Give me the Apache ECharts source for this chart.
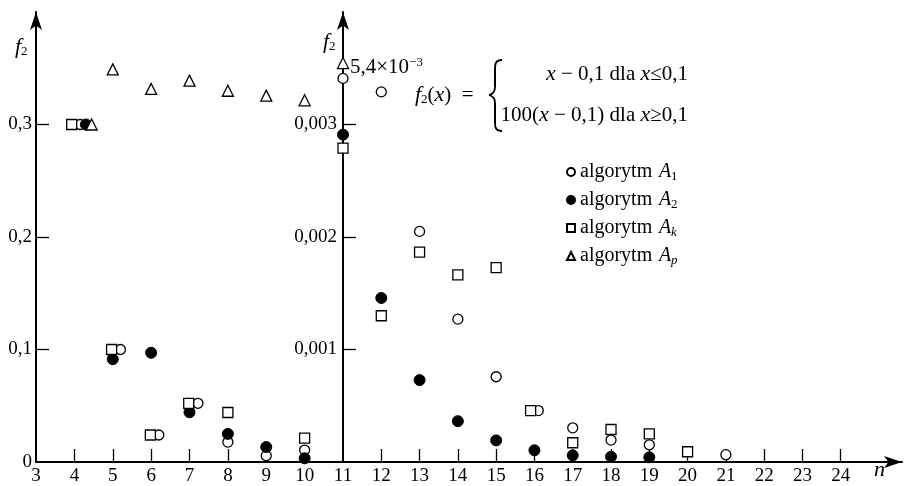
<!DOCTYPE html>
<html>
<head>
    <meta charset="utf-8" />
    <title>f2 - algorytmy</title>
    <script src="https://cdn.jsdelivr.net/npm/echarts@6/dist/echarts.min.js"></script>
</head>
<body style="margin:0">
    <div style="width:904px;height:486px;" id="echart"></div>
</body>
</html>
<script>
    // lewa czesc wykresu (n = 3..11), skala 0..0,4
    var a1Left = [[4.15, 0.3], [5.2, 0.1], [6.2, 0.024], [7.22, 0.0522], [8, 0.0177], [9, 0.0056], [10, 0.0106]];
    var a2Left = [[4.3, 0.3], [5, 0.0914], [6, 0.0971], [7, 0.0442], [8, 0.025], [9, 0.0133], [10, 0.0033]];
    var akLeft = [[3.93, 0.3], [4.97, 0.1], [5.98, 0.024], [6.98, 0.0522], [8, 0.044], [10, 0.0212]];
    var apLeft = [[4.45, 0.3], [5, 0.349], [6, 0.3316], [7, 0.339], [8, 0.330], [9, 0.3257], [10, 0.3215]];
    // prawa czesc (n = 11..24), skala 0..0,004
    var a1Right = [[11, 0.00341], [12, 0.00329], [13, 0.00205], [14, 0.00127], [15, 0.000758], [16.1, 0.000457],
                   [17, 0.000304], [18, 0.000195], [19, 0.000153], [21, 0.000065]];
    var a2Right = [[11, 0.00291], [12, 0.001458], [13, 0.000728], [14, 0.000363], [15, 0.000192], [16, 0.000104],
                   [17, 0.000059], [18, 0.000047], [19, 0.000042]];
    var akRight = [[11, 0.00279], [12, 0.0013], [13, 0.001865], [14, 0.001664], [15, 0.001728], [15.9, 0.000457],
                   [17, 0.000171], [18, 0.000289], [19, 0.00025], [20, 0.000091]];
    var apRight = [[11, 0.003546]]; // punkt poza skala: 5,4e-3

    var xLabelsLeft = [3, 4, 5, 6, 7, 8, 9, 10];
    var xTicksLeft = [4, 5, 6, 7, 8, 9, 10];
    var xLabelsRight = [11, 12, 13, 14, 15, 16, 17, 18, 19, 20, 21, 22, 23, 24];
    var xTicksRight = [12, 13, 14, 15, 16, 17, 18, 19, 20, 21, 22, 23, 24];
    var yLabelsLeft = [0, 0.1, 0.2, 0.3];
    var yTicksLeft = [0.1, 0.2, 0.3];
    var yLabelsRight = [0.001, 0.002, 0.003];

    var FONT = "'Liberation Serif', 'Times New Roman', serif";
    var AXIS = { color: '#000', width: 2 };

    function comma(v) {
        return String(v).replace('.', ',');
    }

    var rich = {
        n: { fontFamily: FONT, fontSize: 20, color: '#000' },
        i: { fontFamily: FONT, fontSize: 20, fontStyle: 'italic', color: '#000' },
        N: { fontFamily: FONT, fontSize: 21, color: '#000' },
        I: { fontFamily: FONT, fontSize: 22, fontStyle: 'italic', color: '#000' },
        s: { fontFamily: FONT, fontSize: 13, color: '#000', padding: [9, 0, 0, 0] },
        si: { fontFamily: FONT, fontSize: 13, fontStyle: 'italic', color: '#000', padding: [9, 0, 0, 0] },
        up: { fontFamily: FONT, fontSize: 13, color: '#000', padding: [0, 0, 9, 0] }
    };

    function xAxisDef(idx, min, max, labels, ticks, arrow) {
        return {
            gridIndex: idx, type: 'value', min: min, max: max,
            axisLine: { onZero: false, lineStyle: AXIS, symbol: arrow ? ['none', 'arrow'] : 'none', symbolSize: [9, 18] },
            axisTick: { inside: true, length: 13, customValues: ticks, lineStyle: { color: '#000', width: 1.3 } },
            axisLabel: { customValues: labels, margin: 5, color: '#000', fontFamily: FONT, fontSize: 19 },
            splitLine: { show: false }
        };
    }

    function yAxisDef(idx, max, labels, ticks, margin) {
        return {
            gridIndex: idx, type: 'value', min: 0, max: max,
            axisLine: { show: true, onZero: false, lineStyle: AXIS, symbol: ['none', 'arrow'], symbolSize: [9, 18] },
            axisTick: { inside: true, length: 13, customValues: ticks, lineStyle: { color: '#000', width: 1.3 } },
            axisLabel: { customValues: labels, margin: margin, color: '#000', fontFamily: FONT, fontSize: 19,
                formatter: comma },
            splitLine: { show: false }
        };
    }

    var openStyle = { color: '#fff', borderColor: '#000', borderWidth: 1.3, opacity: 1 };
    var fillStyle = { color: '#000', borderColor: '#000', borderWidth: 1, opacity: 1 };

    function sc(name, g, data, symbol, size, style) {
        return {
            name: name, type: 'scatter', xAxisIndex: g, yAxisIndex: g, data: data,
            symbol: symbol, symbolSize: size, itemStyle: style, clip: false, z: 5
        };
    }

    // klamra wzoru
    function curve(x1, y1, cx1, cy1, cx2, cy2, x2, y2) {
        return {
            type: 'bezierCurve',
            shape: { x1: x1, y1: y1, cpx1: cx1, cpy1: cy1, cpx2: cx2, cpy2: cy2, x2: x2, y2: y2 },
            style: { fill: null, stroke: '#000', lineWidth: 1.8 }
        };
    }
    function seg(x1, y1, x2, y2) {
        return {
            type: 'line', shape: { x1: x1, y1: y1, x2: x2, y2: y2 },
            style: { stroke: '#000', lineWidth: 2 }
        };
    }

    var subs = { A1: '{s|1}', A2: '{s|2}', Ak: '{si|k}', Ap: '{si|p}' };

    var myChart = echarts.init(document.getElementById('echart'));
    var option = {
        animation: false,
        backgroundColor: '#fff',
        grid: [
            { left: 36, top: 12, width: 307, bottom: 22 },
            { left: 343, top: 12, right: 2, bottom: 22 }
        ],
        xAxis: [
            xAxisDef(0, 3, 11, xLabelsLeft, xTicksLeft, false),
            xAxisDef(1, 11, 25.6, xLabelsRight, xTicksRight, true)
        ],
        yAxis: [
            yAxisDef(0, 0.4, yLabelsLeft, yTicksLeft, 4),
            yAxisDef(1, 0.004, yLabelsRight, yLabelsRight, 6)
        ],
        legend: {
            orient: 'vertical', left: 561, top: 157, itemGap: 7, itemWidth: 8, itemHeight: 8,
            data: ['A1', 'A2', 'Ak', 'Ap'],
            formatter: function (name) {
                return '{n|algorytm}  {i|A}' + subs[name];
            },
            textStyle: { rich: rich }
        },
        series: [
            sc('A1', 0, a1Left, 'circle', 10, openStyle),
            sc('A2', 0, a2Left, 'circle', 11, fillStyle),
            sc('Ak', 0, akLeft, 'rect', 10, openStyle),
            sc('Ap', 0, apLeft, 'triangle', 11, openStyle),
            sc('A1', 1, a1Right, 'circle', 10, openStyle),
            sc('A2', 1, a2Right, 'circle', 11, fillStyle),
            sc('Ak', 1, akRight, 'rect', 10, openStyle),
            sc('Ap', 1, apRight, 'triangle', 11, openStyle)
        ],
        graphic: [
            { type: 'text', left: 15, top: 36, style: { text: '{I|f}{s|2}', rich: rich } },
            { type: 'text', left: 323, top: 31, style: { text: '{I|f}{s|2}', rich: rich } },
            { type: 'text', left: 874, top: 459, style: { text: '{I|n}', rich: rich } },
            { type: 'text', left: 350, top: 56, style: { text: '{N|5,4×10}{up|−3}', rich: rich } },
            { type: 'text', left: 415, top: 84, style: { text: '{I|f}{s|2}{N|(}{I|x}{N|)  =}', rich: rich } },
            { type: 'text', right: 216, top: 63, style: { text: '{I|x}{N| − 0,1 dla }{I|x}{N|≤0,1}', rich: rich } },
            { type: 'text', right: 216, top: 104, style: { text: '{N|100(}{I|x}{N| − 0,1) dla }{I|x}{N|≥0,1}', rich: rich } },
            curve(502, 60, 496, 60, 495, 63, 495, 69),
            seg(495, 69, 495, 87),
            curve(495, 87, 495, 92, 493, 94, 489, 95),
            curve(489, 95, 493, 96, 495, 98, 495, 103),
            seg(495, 103, 495, 123),
            curve(495, 123, 495, 128, 496, 131, 502, 131)
        ]
    };
    myChart.setOption(option);
</script>
